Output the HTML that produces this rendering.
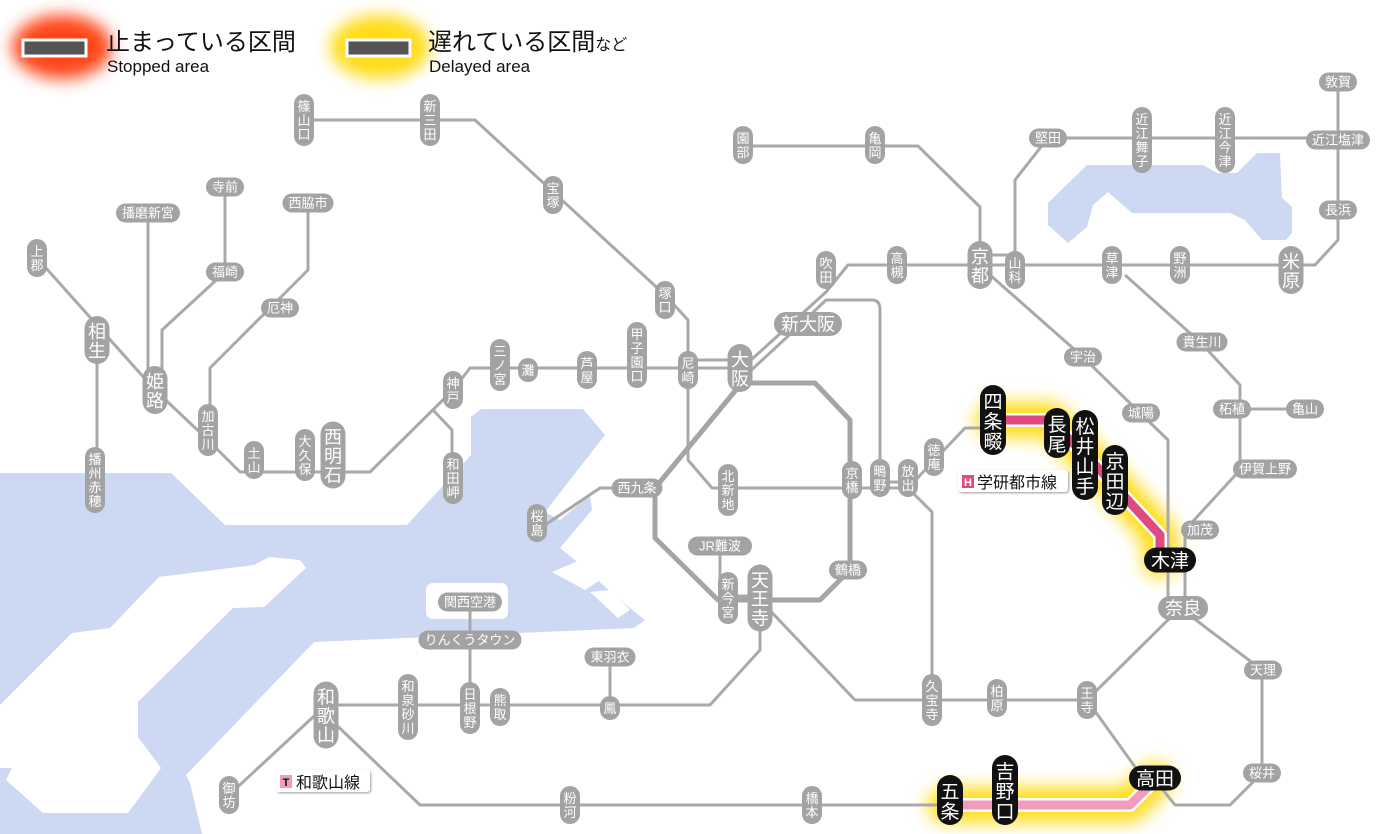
<!DOCTYPE html>
<html><head><meta charset="utf-8">
<style>
html,body{margin:0;padding:0;background:#fff;}
svg{display:block;font-family:"Liberation Sans","Noto Sans CJK JP",sans-serif;}
</style></head>
<body>
<svg id="m" width="1400" height="834" viewBox="0 0 1400 834" xmlns="http://www.w3.org/2000/svg">
<defs>
<filter id="blur" x="-20%" y="-20%" width="140%" height="140%"><feGaussianBlur stdDeviation="9"/></filter>
<filter id="blur2" x="-50%" y="-50%" width="200%" height="200%"><feGaussianBlur stdDeviation="8"/></filter>
<filter id="sh"><feDropShadow dx="1" dy="1" stdDeviation="1" flood-color="#999"/></filter>
</defs>
<!-- water -->
<g fill="#cdd9f2">
<path d="M0,473 L171,473 L225,525 L407,525 L471,455 L471,417 L481,409 L583,409 L605,435 L545,512 L560,520 L590,495 L592,510 L560,548 L575,560 L620,600 L645,620 L634,628 L314,642 L186,775 L190,783 L202,834 L0,834 L0,768 L12,768 L6,780 L43,813 L128,813 L161,768 L138,737 L138,702 L233,608 L264,607 L306,568 L300,560 L269,557 L254,565 L159,577 L110,628 L72,633 L0,705 Z"/>
<path d="M1087,165 L1203,165 L1217,173 L1237,173 L1257,153 L1280,153 L1282,198 L1292,207 L1292,233 L1286,240 L1262,240 L1245,220 L1230,213 L1132,213 L1108,192 L1093,205 L1087,227 L1068,243 L1048,225 L1048,203 Z"/>
</g>
<g fill="#fff">
<rect x="426" y="583" width="82" height="36" rx="7"/>
<path d="M552,572 L580,560 L600,580 L585,590 Z"/>
<path d="M590,592 L610,590 L630,610 L618,618 Z"/>
</g>
<!-- glows -->
<g fill="none" stroke="#ffd800" stroke-linecap="round" stroke-linejoin="round" filter="url(#blur)" opacity="0.95">
<path d="M993,420 H1050 L1100,470 L1160,535 V560" stroke-width="34"/>
<path d="M945,805 H1130 L1155,780" stroke-width="34"/>
</g>
<!-- lines -->
<g id="lines" fill="none" stroke="#a9a9a9" stroke-width="3" stroke-linejoin="round">
<path d="M304,120 H475 L665,295 L688,320 V460 L712,488 H908"/>
<path d="M37,258 L155,390 L208,440 L240,472 H370 L453,390 L470,368 H740"/>
<path d="M97,340 V482"/>
<path d="M148,213 V395"/>
<path d="M225,187 V272 L162,330 V395"/>
<path d="M308,203 V270 L210,368 V435"/>
<path d="M433,410 L452,430 V490"/>
<path d="M688,360 L740,360"/>
<path d="M743,146 H918 L980,207 V265"/>
<path d="M740,370 L826,292 L848,265 H1315 L1338,240 V82"/>
<path d="M745,376 L800,325 L826,300 H872 Q880,300 880,310 V488"/>
<path d="M988,255 H1015 V180 L1048,138 H1338"/>
<path d="M990,275 L1083,357 L1140,413 L1168,440 V600"/>
<path d="M1125,275 L1200,342 L1240,385 V470 L1185,530 V600"/>
<path d="M1240,409 H1305"/>
<path d="M655,488 H600 L545,525"/>
<path d="M908,488 L932,512 V700"/>
<path d="M908,488 L965,428 H993"/>
<path d="M760,600 L855,700 H1087 L1180,608 L1262,670 V773 L1230,805 H1175 L1155,780"/>
<path d="M1087,700 L1143,778"/>
<path d="M950,805 H420 L326,715"/>
<path d="M760,600 V650 L710,705 H326 L229,795"/>
<path d="M470,602 V705"/>
<path d="M610,657 V705"/>
<path d="M720,546 V580 L735,596 H760"/>
<path d="M880,482 H908"/>
</g>
<!-- osaka loop -->
<path d="M740,383 H815 L850,420 V570 L820,600 H718 L655,538 V488 L740,385" fill="none" stroke="#a5a5a5" stroke-width="5" stroke-linejoin="round"/>
<!-- highlighted -->
<g fill="none" stroke-linejoin="round" stroke-linecap="round">
<path d="M993,420 H1050 L1100,470 L1160,535 V560" stroke="#fff" stroke-width="14"/>
<path d="M993,420 H1050 L1100,470 L1160,535 V560" stroke="#e04a7e" stroke-width="9"/>
<path d="M945,805 H1130 L1155,780" stroke="#fff" stroke-width="14"/>
<path d="M945,805 H1130 L1155,780" stroke="#f29cbc" stroke-width="9"/>
</g>
<!-- legend -->
<ellipse cx="62" cy="47" rx="50" ry="32" fill="#ff3000" filter="url(#blur2)" opacity="0.9"/>
<rect x="23" y="40" width="63" height="16" fill="#555" stroke="#fff" stroke-width="3"/>
<text x="106" y="50" font-size="24" fill="#111">止まっている区間</text>
<text x="107" y="72" font-size="17" fill="#111">Stopped area</text>
<ellipse cx="380" cy="47" rx="50" ry="32" fill="#ffd800" filter="url(#blur2)" opacity="0.9"/>
<rect x="347" y="40" width="63" height="16" fill="#555" stroke="#fff" stroke-width="3"/>
<text x="428" y="50" font-size="24" fill="#111">遅れている区間<tspan font-size="16">など</tspan></text>
<text x="429" y="72" font-size="17" fill="#111">Delayed area</text>
<!-- line labels -->
<g filter="url(#sh)">
<rect x="958" y="470" width="110" height="22" rx="3" fill="#fff"/>
<rect x="276" y="770" width="94" height="22" rx="3" fill="#fff"/>
</g>
<rect x="962" y="475" width="12" height="13" fill="#e04a7e"/>
<text x="968" y="486" font-size="11" fill="#fff" text-anchor="middle" font-weight="bold">H</text>
<text x="977" y="488" font-size="16" fill="#111">学研都市線</text>
<rect x="280" y="775" width="12" height="13" fill="#f29cbc"/>
<text x="286" y="786" font-size="11" fill="#111" text-anchor="middle" font-weight="bold">T</text>
<text x="296" y="788" font-size="16" fill="#111">和歌山線</text>
<g id="st"></g>
</svg>
<script>
var S=[
["篠山口",304,120,1],["新三田",430,120,1],["宝塚",553,195,1],["塚口",665,300,1],["尼崎",688,370,1],["大阪",740,368,1,1],
["甲子園口",637,355,1],["芦屋",587,370,1],["灘",528,370,1],["三ノ宮",500,365,1],["神戸",453,390,1],["和田岬",453,478,1],
["西明石",333,455,1,1],["大久保",305,455,1],["土山",254,460,1],["加古川",208,430,1],["姫路",155,390,1,1],["相生",97,340,1,1],
["上郡",37,258,1],["播州赤穂",95,480,1],["播磨新宮",148,213,0],["寺前",225,187,0],["福崎",225,272,0],["西脇市",308,203,0],["厄神",280,308,0],
["園部",743,145,1],["亀岡",875,145,1],["吹田",826,270,1],["高槻",897,265,1],["京都",980,265,1,1],["山科",1015,270,1],
["堅田",1048,138,0],["近江舞子",1142,140,1],["近江今津",1225,140,1],["敦賀",1338,82,0],["近江塩津",1338,140,0],["長浜",1338,210,0],
["米原",1291,270,1,1],["野洲",1180,265,1],["草津",1112,265,1],["宇治",1083,357,0],["貴生川",1202,342,0],["城陽",1141,413,0],
["柘植",1232,409,0],["亀山",1305,409,0],["伊賀上野",1265,469,0],["加茂",1200,530,0],["木津",1170,560,0,1,1],["奈良",1183,608,0,1],
["天理",1263,670,0],["桜井",1262,773,0],["高田",1155,778,0,1,1],
["新大阪",808,324,0,1],["京橋",852,480,1],["鴫野",880,478,1],["放出",908,478,1],["徳庵",934,457,1],["北新地",728,490,1],
["西九条",637,488,0],["桜島",537,523,1],["JR難波",720,546,0],["新今宮",728,598,1],["天王寺",760,598,1,1],["鶴橋",848,570,0],
["四条畷",993,420,1,1,1],["長尾",1057,433,1,1,1],["松井山手",1085,455,1,1,1],["京田辺",1115,480,1,1,1],
["関西空港",470,602,0],["りんくうタウン",470,640,0],["東羽衣",610,657,0],["鳳",610,708,1],["熊取",500,707,1],["日根野",470,708,1],
["和泉砂川",408,707,1],["和歌山",326,715,1,1],["御坊",229,795,1],["粉河",570,805,1],["橋本",812,805,1],
["五条",950,800,1,1,1],["吉野口",1005,790,1,1,1],["久宝寺",932,700,1],["柏原",997,698,1],["王寺",1087,700,1]];
var g=document.getElementById("st"),ns="http://www.w3.org/2000/svg";
function el(t,a){var e=document.createElementNS(ns,t);for(var k in a)e.setAttribute(k,a[k]);g.appendChild(e);return e;}
S.forEach(function(s){
 var n=s[0],x=s[1],y=s[2],v=s[3],big=s[4],blk=s[5];
 var fs=big?18:13, ch=[...n], fill=blk?"#111":"#a3a3a3";
 if(blk) fs=19;
 if(v){
  var w=fs+7,h=ch.length*(fs+1)+10;
  el("rect",{x:x-w/2,y:y-h/2,width:w,height:h,rx:w/2,fill:fill});
  ch.forEach(function(c,i){var t=el("text",{x:x,y:y-h/2+5+(i+1)*(fs+1)-2,"font-size":fs,fill:"#fff","text-anchor":"middle"});t.textContent=c;});
 }else{
  var w=ch.length*fs+(big?14:12),h=fs+6;
  el("rect",{x:x-w/2,y:y-h/2,width:w,height:h,rx:h/2,fill:fill});
  var t=el("text",{x:x,y:y+fs*0.36,"font-size":fs,fill:"#fff","text-anchor":"middle"});t.textContent=n;
 }
});
</script>
</body></html>
